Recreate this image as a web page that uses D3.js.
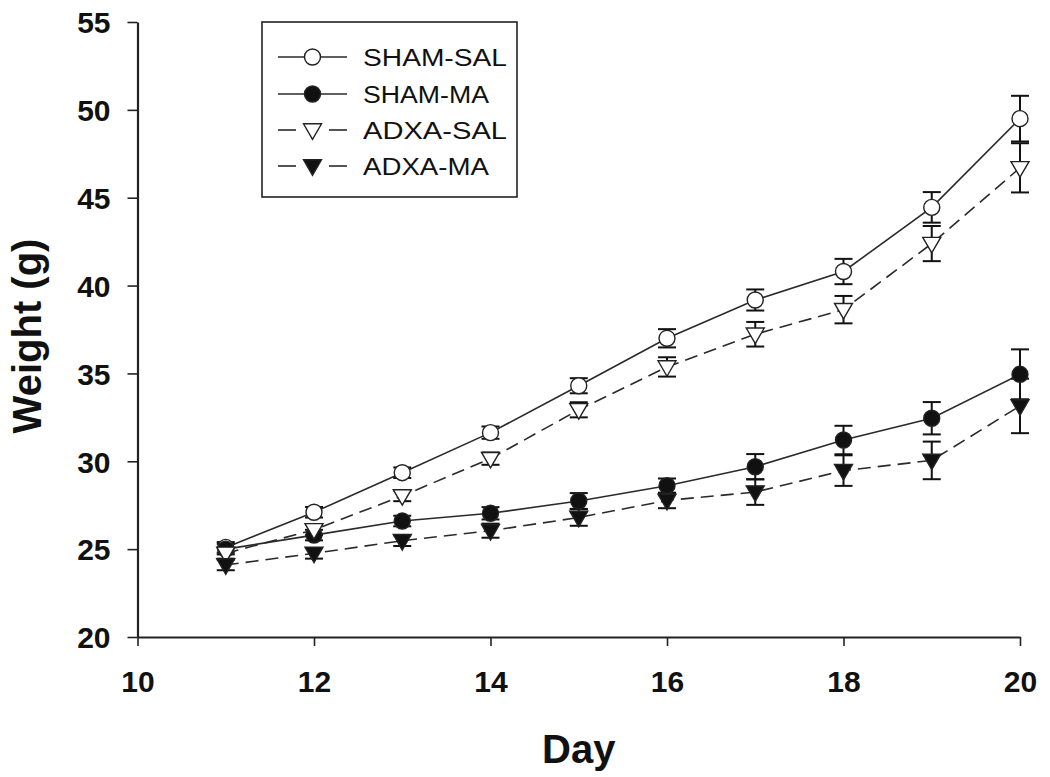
<!DOCTYPE html>
<html><head><meta charset="utf-8">
<script src="https://cdn.jsdelivr.net/npm/d3@7"></script>
<style>body{margin:0;background:#fff}svg{display:block}text{font-family:"Liberation Sans",Arial,sans-serif}</style>
</head><body><svg id="c" width="1050" height="777"></svg>
<script>
const days = [11,12,13,14,15,16,17,18,19,20];
const shamSal    = [25.1, 27.1, 29.35, 31.63, 34.3, 37.0, 39.18, 40.8, 44.45, 49.5];
const shamSalErr = [0.3, 0.3, 0.3, 0.35, 0.43, 0.52, 0.6, 0.72, 0.87, 1.3];
const shamMa     = [25.0, 25.8, 26.6, 27.04, 27.74, 28.61, 29.69, 31.21, 32.45, 34.95];
const shamMaErr  = [0.3, 0.3, 0.3, 0.35, 0.45, 0.41, 0.72, 0.81, 0.92, 1.42];
const adxaSal    = [24.76, 26.1, 28.03, 30.15, 32.93, 35.37, 37.23, 38.63, 42.39, 46.7];
const adxaSalErr = [0.3, 0.3, 0.3, 0.35, 0.43, 0.55, 0.7, 0.78, 1.0, 1.4];
const adxaMa     = [24.1, 24.76, 25.48, 26.05, 26.8, 27.77, 28.25, 29.47, 30.05, 33.15];
const adxaMaErr  = [0.3, 0.3, 0.3, 0.4, 0.47, 0.44, 0.73, 0.87, 1.07, 1.55];
const xTicks = [10,12,14,16,18,20];
const yTicks = [20,25,30,35,40,45,50,55];
const seriesNames = ["SHAM-SAL","SHAM-MA","ADXA-SAL","ADXA-MA"];

const series = [
  {name:seriesNames[0], v:shamSal, e:shamSalErr, shape:"circle", fill:"#fff", dash:null},
  {name:seriesNames[1], v:shamMa, e:shamMaErr, shape:"circle", fill:"#111", dash:null},
  {name:seriesNames[2], v:adxaSal, e:adxaSalErr, shape:"tri", fill:"#fff", dash:"13,7"},
  {name:seriesNames[3], v:adxaMa, e:adxaMaErr, shape:"tri", fill:"#111", dash:"13,7"}
];

const svg = d3.select("#c");
const x = d3.scaleLinear().domain([10,20]).range([137.5,1020]);
const y = d3.scaleLinear().domain([20,55]).range([637,22]);

// axes
const xAxis = svg.append("g").attr("transform","translate(0,637)")
  .call(d3.axisBottom(x).tickValues(xTicks).tickSize(9).tickSizeOuter(0).tickPadding(25));
const yAxis = svg.append("g").attr("transform","translate(137.5,0)")
  .call(d3.axisLeft(y).tickValues(yTicks).tickSize(10).tickSizeOuter(0).tickPadding(17));
[xAxis,yAxis].forEach(a=>{
  a.select(".domain").attr("stroke","#222").attr("stroke-width",2.2);
  a.selectAll(".tick line").attr("stroke","#222").attr("stroke-width",1.6);
  a.selectAll(".tick text").attr("fill","#111").attr("font-size",30).attr("font-weight","bold")
   .attr("font-family","'Liberation Sans',Arial,sans-serif");
});
yAxis.selectAll(".tick text").attr("dy","0.36em");

svg.append("text").attr("x",578.75).attr("y",763).attr("text-anchor","middle")
  .attr("font-size",40).attr("font-weight","bold").attr("fill","#111").text("Day");
svg.append("text").attr("transform","translate(41,336) rotate(-90)").attr("text-anchor","middle")
  .attr("font-size",40).attr("font-weight","bold").attr("fill","#111").text("Weight (g)");

function marker(g, s, cx, cy){
  if(s.shape==="circle"){
    g.append("circle").attr("cx",cx).attr("cy",cy).attr("r",8)
      .attr("fill",s.fill).attr("stroke","#222").attr("stroke-width",1.4);
  } else {
    const w=9, h=15.5;
    g.append("path").attr("d",`M${cx-w},${cy-h*0.4}L${cx+w},${cy-h*0.4}L${cx},${cy+h*0.6}Z`)
      .attr("fill",s.fill).attr("stroke","#222").attr("stroke-width",1.4).attr("stroke-linejoin","miter");
  }
}

const line = d3.line().x((d,i)=>x(days[i])).y(d=>y(d));
series.forEach(s=>{
  svg.append("path").attr("d",line(s.v)).attr("fill","none").attr("stroke","#2a2a2a")
    .attr("stroke-width",1.6).attr("stroke-dasharray",s.dash);
});
series.forEach(s=>{
  const g = svg.append("g");
  s.v.forEach((v,i)=>{
    const cx=x(days[i]), y1=y(v+s.e[i]), y2=y(v-s.e[i]);
    g.append("line").attr("x1",cx).attr("x2",cx).attr("y1",y1).attr("y2",y2).attr("stroke","#111").attr("stroke-width",2);
    [y1,y2].forEach(yy=>g.append("line").attr("x1",cx-9).attr("x2",cx+9).attr("y1",yy).attr("y2",yy)
      .attr("stroke","#111").attr("stroke-width",2));
  });
});
series.forEach(s=>{
  const g = svg.append("g");
  s.v.forEach((v,i)=>marker(g,s,x(days[i]),y(v)));
});

// legend
const lg = svg.append("g");
lg.append("rect").attr("x",262).attr("y",22).attr("width",255).attr("height",175)
  .attr("fill","#fff").attr("stroke","#222").attr("stroke-width",1.6);
const rows=[57,94,130,166];
series.forEach((s,i)=>{
  const yy=rows[i];
  if(!s.dash){
    lg.append("line").attr("x1",278).attr("x2",347).attr("y1",yy).attr("y2",yy).attr("stroke","#2a2a2a").attr("stroke-width",1.6);
  } else {
    [[278,296],[329,347]].forEach(p=>lg.append("line").attr("x1",p[0]).attr("x2",p[1]).attr("y1",yy).attr("y2",yy)
      .attr("stroke","#2a2a2a").attr("stroke-width",1.6));
  }
  marker(lg,s,312.5,yy);
  lg.append("text").attr("x",363).attr("y",yy+8.5).attr("font-size",23).attr("fill","#111")
    .attr("textLength",s.name.length*18).attr("lengthAdjust","spacingAndGlyphs").text(s.name);
});
</script></body></html>
